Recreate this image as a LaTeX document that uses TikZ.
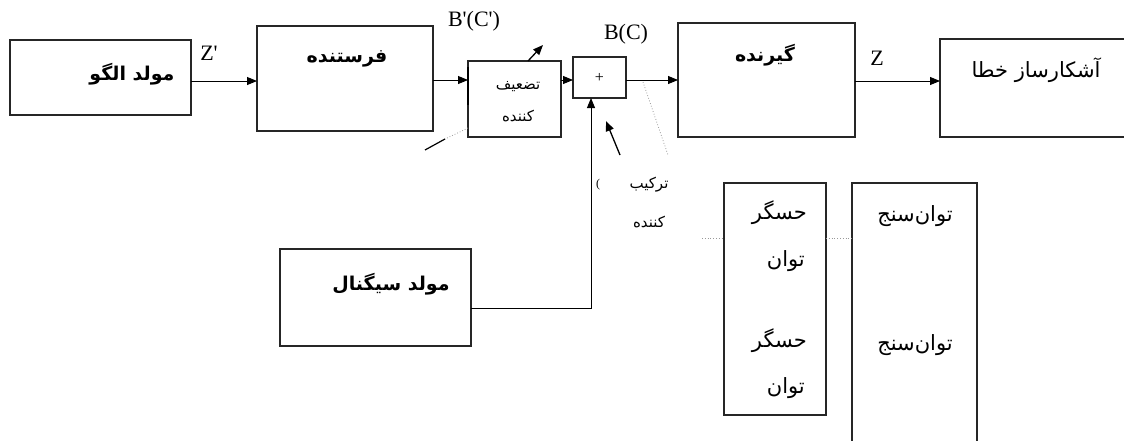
\documentclass[tikz,border=0pt]{standalone}
\usepackage{fontspec}
\usetikzlibrary{arrows.meta}
\setmainfont{Liberation Serif}
\newfontfamily\fa[Script=Arabic]{DejaVu Sans}
\TeXXeTstate=1
\tikzset{
  box/.style={draw=black!85, line width=1.2pt, rectangle, inner sep=0pt, outer sep=0pt, anchor=north west},
  arr/.style={draw=black, line width=0.9pt, -{Triangle[length=10pt,width=8pt]}},
  wire/.style={draw=black, line width=0.9pt},
  lead/.style={draw=gray!80, line width=0.8pt, dotted},
  lbl/.style={inner sep=0pt, font=\fontsize{22}{25}\selectfont},
  fabig/.style={inner sep=0pt, font=\fa\bfseries\fontsize{19}{22}\selectfont},
  fanorm/.style={inner sep=0pt, font=\fa\fontsize{21}{24}\selectfont},
  fasmall/.style={inner sep=0pt, font=\fa\fontsize{15}{17}\selectfont},
}
\begin{document}
\begin{tikzpicture}[x=1pt,y=-1pt]
\useasboundingbox (0,0) rectangle (1124,440);
% boxes
\node[box, minimum width=181pt, minimum height=75pt] (gen) at (10,40) {};
\node[box, minimum width=176pt, minimum height=105pt] (tx) at (257,26) {};
\node[box, minimum width=93pt, minimum height=76pt] (att) at (468,61) {};
\node[box, minimum width=53pt, minimum height=41pt] (sum) at (573,57) {};
\node[box, minimum width=177pt, minimum height=114pt] (rx) at (678,23) {};
\node[box, minimum width=190pt, minimum height=98pt] (det) at (940,39) {};
\node[box, minimum width=191pt, minimum height=97pt] (sig) at (280,249) {};
\node[box, minimum width=102pt, minimum height=232pt] (sens) at (724,183) {};
\node[box, minimum width=125pt, minimum height=265pt] (meter) at (852,183) {};
% texts
\node[fabig] (tgen) at (132,74) {\beginR مولد الگو\endR};
\node[fabig] (ttx) at (347,59) {\beginR فرستنده\endR};
\node[fasmall] (tatt1) at (518,87) {\beginR تضعیف\endR};
\node[fasmall] (tatt2) at (518,116) {\beginR کننده\endR};
\node[inner sep=0pt, font=\fontsize{16}{18}\selectfont] (tplus) at (sum.center) {+};
\node[fabig] (trx) at (765,55) {\beginR گیرنده\endR};
\node[fanorm] (tdet) at (1036,70) {\beginR آشکارساز خطا\endR};
\node[fabig] (tsig) at (391,284) {\beginR مولد سیگنال\endR};
\node[fasmall] (tcomb1) at (649,185) {\beginR ترکیب\endR};
\node[fasmall] (tcomb2) at (649,222) {\beginR کننده\endR};
\node[fanorm, anchor=east] (ts1) at (807,213) {\beginR حسگر\endR};
\node[fanorm, anchor=east] (ts2) at (805,261) {\beginR توان\endR};
\node[fanorm, anchor=east] (ts3) at (807,341) {\beginR حسگر\endR};
\node[fanorm, anchor=east] (ts4) at (805,388) {\beginR توان\endR};
\node[fanorm] (tm1) at (915,216) {\beginR توان‌سنج\endR};
\node[fanorm] (tm2) at (915,345) {\beginR توان‌سنج\endR};
% latin labels
\node[lbl] (lz1) at (209,53) {Z\textquotesingle};
\node[lbl] (lb1) at (474,21) {B\textquotesingle(C\textquotesingle)};
\node[lbl] (lb2) at (626,34) {B(C)};
\node[lbl] (lz) at (877,58) {Z};
\node[inner sep=0pt, font=\fontsize{12}{14}\selectfont] (paren) at (598,185) {(};
% connectors
\draw[arr] (gen.east |- 0,81) -- (tx.west |- 0,81);
\draw[arr] (tx.east |- 0,80) -- (att.west |- 0,80);
\draw[arr] (att.east |- 0,80) -- (sum.west |- 0,80);
\draw[arr] (sum.east |- 0,80) -- (rx.west |- 0,80);
\draw[arr] (rx.east |- 0,81) -- (det.west |- 0,81);
\draw[arr] (sig.east |- 0,308) -| (sum.south -| 591,0);
% attenuator details
\draw[black, line width=2pt] (att.west |- 0,67) -- (att.west |- 0,105);
\coordinate (attv) at (att.north -| 528,0);
\draw[arr, line width=1.3pt] (attv) -- ++(15,-16);
\coordinate (attl) at (att.west |- 0,128);
\coordinate (attl2) at (445,139);
\draw[lead] (attl) -- (attl2);
\draw[wire, line width=1.2pt] (attl2) -- (425,150);
% combiner leader
\coordinate (cl) at (sum.east |- 0,82);
\draw[lead] ([xshift=17pt]cl) -- (668,155);
\coordinate (cpt) at (620,155);
\draw[arr, line width=1.3pt] (cpt) -- (606,121);
% sensor leaders
\draw[lead] (702,238) -- (sens.west |- 0,238);
\draw[lead] (sens.east |- 0,238) -- (meter.west |- 0,238);
\end{tikzpicture}
\end{document}
